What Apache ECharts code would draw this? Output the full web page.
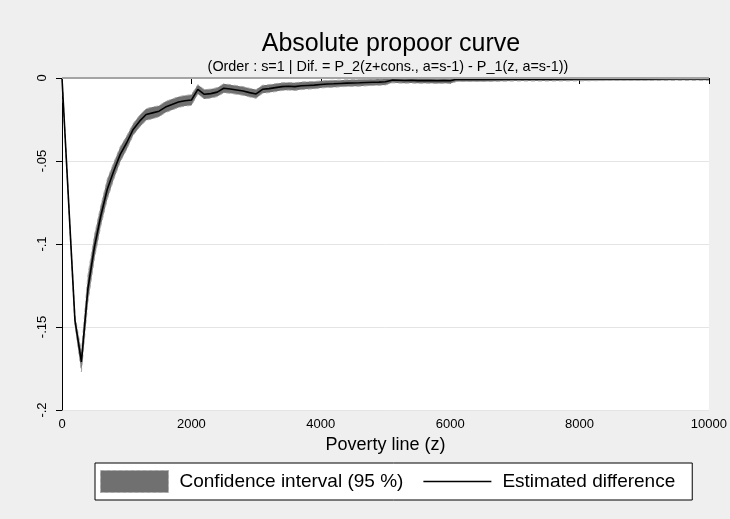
<!DOCTYPE html>
<html><head><meta charset="utf-8">
<script src="https://cdn.jsdelivr.net/npm/echarts@6/dist/echarts.min.js"></script>
<style>html,body{margin:0;padding:0;background:#efefef}#c{width:730px;height:519px}</style>
</head><body><div id="c"></div>
<script>
const povertyLine = [0,200,300,400,500,600,700,800,900,1000,1100,1200,1300,1400,1500,1600,1700,1800,1900,2000,
  2100,2200,2300,2400,2500,2600,2700,2800,2900,3000,3100,3200,3300,3400,3500,3600,3700,3800,3900,4000,
  4100,4200,4300,4400,4500,4600,4700,4800,4900,5000,5100,5200,5300,5400,5500,5600,5700,5800,5900,6000,
  6100,6500,7000,7500,8000,8500,9000,9500,10000];
const estimatedDifference = [0,-0.146,-0.171,-0.127,-0.102,-0.083,-0.067,-0.056,-0.046,-0.039,-0.031,-0.026,-0.022,-0.021,-0.020,-0.0175,-0.016,-0.0145,-0.0137,-0.0133,
  -0.0068,-0.0098,-0.0094,-0.0085,-0.0062,-0.0066,-0.0072,-0.0078,-0.0088,-0.0096,-0.0068,-0.0064,-0.0058,-0.0052,-0.0050,-0.0052,-0.0047,-0.0045,-0.0043,-0.0039,
  -0.0036,-0.0035,-0.0033,-0.0031,-0.0030,-0.0029,-0.0027,-0.0026,-0.0025,-0.0023,-0.0013,-0.0014,-0.0015,-0.0014,-0.0016,-0.0015,-0.0016,-0.0017,-0.0016,-0.0017,
  -0.0008,-0.0008,-0.0007,-0.0007,-0.0006,-0.0005,-0.0005,-0.0004,-0.0004];
const ciHalfWidth = [0,0.003,0.006,0.008,0.007,0.006,0.006,0.005,0.0045,0.004,0.0035,0.0035,0.0035,0.0035,0.0033,0.0033,0.0033,0.0032,0.0032,0.0032,
  0.0028,0.0028,0.0027,0.0027,0.0027,0.0026,0.0026,0.0026,0.0026,0.0026,0.0024,0.0024,0.0024,0.0023,0.0023,0.0023,0.0023,0.0022,0.0022,0.0021,
  0.0021,0.0021,0.002,0.002,0.002,0.002,0.002,0.0019,0.0019,0.0019,0.0016,0.0016,0.0016,0.0016,0.0016,0.0016,0.0016,0.0016,0.0016,0.0016,
  0.0013,0.0013,0.0011,0.0011,0.0011,0.001,0.001,0.001,0.001];
const xTicks = [0,2000,4000,6000,8000,10000];
const yTickLabels = {'0':'0','-0.05':'-.05','-0.1':'-.1','-0.15':'-.15','-0.2':'-.2'};

const ciLower = estimatedDifference.map((v,i)=>v-ciHalfWidth[i]);
const ciUpper = estimatedDifference.map((v,i)=>v+ciHalfWidth[i]);

const chart = echarts.init(document.getElementById('c'), null, {renderer:'canvas'});
const FONT = 'Liberation Sans, Arial, sans-serif';

function renderBand(params, api){
  if (params.dataIndex !== 0) return null;
  const up = [], lo = [];
  for (let i = 0; i < povertyLine.length; i++) {
    up.push(api.coord([povertyLine[i], Math.min(ciUpper[i], 0)]));
    lo.push(api.coord([povertyLine[i], ciLower[i]]));
  }
  const pts = up.concat(lo.slice().reverse());
  return {
    type:'group',
    children:[
      {type:'polygon', shape:{points:pts}, style:{fill:'#707070', stroke:null}},
      {type:'polyline', shape:{points:up}, style:{fill:null, stroke:'#a8a8a8', lineWidth:1, lineDash:[4,3]}},
      {type:'polyline', shape:{points:lo}, style:{fill:null, stroke:'#a8a8a8', lineWidth:1, lineDash:[4,3]}}
    ]
  };
}

chart.setOption({
  backgroundColor:'#efefef',
  animation:false,
  textStyle:{fontFamily:FONT},
  title:[
    {text:'Absolute propoor curve', left:386, top:27, textAlign:'center',
     textStyle:{fontSize:25, fontWeight:'normal', color:'#000', fontFamily:FONT}},
    {text:'(Order : s=1 | Dif. = P_2(z+cons., a=s-1) - P_1(z, a=s-1))', left:383, top:55, textAlign:'center',
     textStyle:{fontSize:14.4, fontWeight:'normal', color:'#000', fontFamily:FONT}}
  ],
  grid:{left:62, right:20, top:78, bottom:109, show:true, backgroundColor:'#fff', borderWidth:0},
  legend:{
    left:95, top:463, orient:'horizontal',
    backgroundColor:'#fff', borderColor:'#000', borderWidth:1, borderRadius:0,
    padding:[7,17,7,5], itemWidth:68, itemHeight:22, itemGap:20,
    textStyle:{fontSize:19, color:'#000', fontFamily:FONT, padding:[0,0,0,6]},
    data:[
      {name:'Confidence interval (95 %)', icon:'rect', itemStyle:{color:'#707070', borderColor:'#a8a8a8', borderWidth:1, borderType:'dashed'}},
      {name:'Estimated difference', icon:'path://M0,0 L68,0 L68,1.6 L0,1.6 Z', itemStyle:{color:'#000'}}
    ]
  },
  xAxis:{
    type:'value', min:0, max:10000, interval:2000,
    name:'Poverty line (z)', nameLocation:'middle', nameGap:19,
    nameTextStyle:{fontSize:18, color:'#000', verticalAlign:'top', fontFamily:FONT},
    axisLine:{lineStyle:{color:'#000', width:1}},
    axisTick:{show:true, length:6, lineStyle:{color:'#000'}},
    axisLabel:{fontSize:13, color:'#000', margin:8, fontFamily:FONT, formatter:v=>String(v)},
    splitLine:{show:false}
  },
  yAxis:{
    type:'value', min:-0.2, max:0, interval:0.05,
    axisLine:{show:true, lineStyle:{color:'#000', width:1}},
    axisTick:{show:true, length:6, lineStyle:{color:'#000'}},
    axisLabel:{fontSize:13, color:'#000', rotate:90, margin:13, fontFamily:FONT,
      formatter:v=>{const k=String(Math.round(v*100)/100); return yTickLabels[k]!==undefined?yTickLabels[k]:k;}},
    splitLine:{show:true, lineStyle:{color:'#e4e4e4', width:1}}
  },
  series:[
    {name:'Confidence interval (95 %)', type:'custom', silent:true, clip:true,
     data: povertyLine.map((z,i)=>[z, ciLower[i], ciUpper[i]]),
     encode:{x:0, y:[1,2]},
     renderItem: renderBand,
     itemStyle:{color:'#707070'}, z:3,
     markLine:{silent:true, symbol:'none', label:{show:false},
       lineStyle:{color:'#a4a4a4', width:2, type:'solid'}, data:[{yAxis:0}]}},
    {name:'Estimated difference', type:'line', symbol:'none', silent:true,
     data: povertyLine.map((z,i)=>[z, estimatedDifference[i]]),
     lineStyle:{color:'#000', width:1.6}, itemStyle:{color:'#000'}, z:4}
  ]
});
</script></body></html>
